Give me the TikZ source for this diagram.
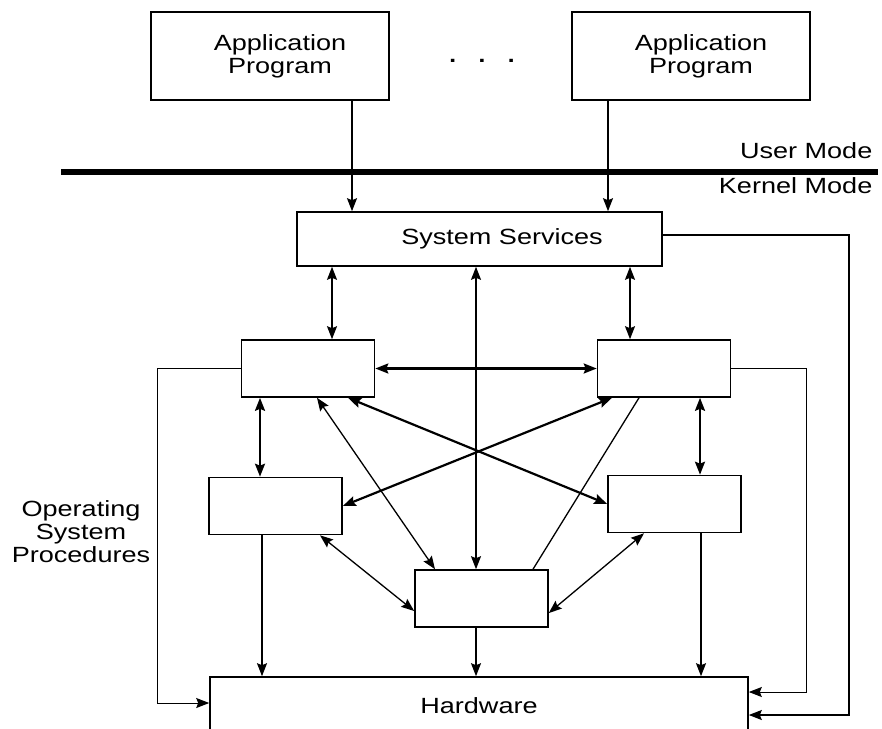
\documentclass[tikz,border=0pt]{standalone}
\usepackage{fontspec}
\setmainfont{Liberation Sans}[FakeStretch=1.23]
\usetikzlibrary{arrows.meta}

\begin{document}
\begin{tikzpicture}[x=1pt,y=-1pt,line width=1.3pt,
      >={Stealth[length=13pt,width=10pt,inset=2pt]},
      every node/.style={inner sep=0pt,font=\fontsize{22}{23}\selectfont},
      box/.style={draw,line width=1.6pt,minimum width=133pt,minimum height=57pt},
      heavy/.style={line width=2.2pt}]
  \useasboundingbox (0,0) rectangle (882,728);
  % user mode
  \node[box,minimum width=238pt,minimum height=88pt,align=center](app1) at (270,56)
     {\hspace*{20pt}Application\\\hspace*{20pt}Program};
  \node[box,minimum width=238pt,minimum height=88pt,align=center](app2) at (691,56)
     {\hspace*{20pt}Application\\\hspace*{20pt}Program};
  \node[anchor=base,font=\fontsize{30}{30}\selectfont](dots) at (482,62){.\hspace{19pt}.\hspace{19pt}.};
  \draw[line width=6pt](61,172)--(878,172);
  \node[anchor=base east](um) at (873,158){User Mode};
  \node[anchor=base east](km) at (873,193){Kernel Mode};
  % kernel mode
  \node[box,minimum width=365pt,minimum height=54pt](ss) at (479.5,239){\hspace*{45pt}System Services};
  \node[box](b1) at (308,368.5){};
  \node[box](b2) at (664,368.5){};
  \node[box](b3) at (275.5,506){};
  \node[box](b4) at (674.5,504){};
  \node[box](b5) at (481.5,598.5){};
  \node[box,minimum width=538pt,minimum height=62pt](hw) at (479,708){\raisebox{5pt}{Hardware}};
  \node[align=center](osp) at (81,532){Operating\\System\\Procedures};
  % calls from the applications
  \draw[->](app1.south-|352,0)--(ss.north-|352,0);
  \draw[->](app2.south-|608,0)--(ss.north-|608,0);
  % system services to procedures
  \draw[<->](ss.south-|332,0)--(b1.north-|332,0);
  \draw[<->](ss.south-|476,0)--(b5.north-|476,0);
  \draw[<->](ss.south-|630,0)--(b2.north-|630,0);
  % procedures among themselves
  \draw[<->,heavy](b1.east)--(b2.west);
  \draw[<->,heavy](b1.south-|260,0)--(b3.north-|260,0);
  \draw[<->,heavy](b2.south-|700,0)--(b4.north-|700,0);
  \draw[<->,heavy](b1.south-|348,0)--(b4.west);
  \draw[<->,heavy](b2.south-|612,0)--(b3.east);
  \draw[<->](b1.south-|317,0)--(b5.north-|435,0);
  \draw(b2.south-|639,0)--(b5.north-|533,0);
  \draw[<->](b3.south-|320,0)--(b5.west|-0,611);
  \draw[<->](b4.south-|644,0)--(b5.east|-0,613);
  % down to the hardware
  \draw[->](b3.south-|262,0)--(hw.north-|262,0);
  \draw[->](b5.south-|476,0)--(hw.north-|476,0);
  \draw[->](b4.south-|701,0)--(hw.north-|701,0);
  \draw[->,line width=1pt](b1.west)--++(-83,0)|-(hw.west|-0,703);
  \draw[->,line width=1pt](b2.east)--++(75,0)|-(hw.east|-0,692);
  \draw[->](ss.east|-0,235)--(849,235)|-(hw.east|-0,715);
\end{tikzpicture}
\end{document}
